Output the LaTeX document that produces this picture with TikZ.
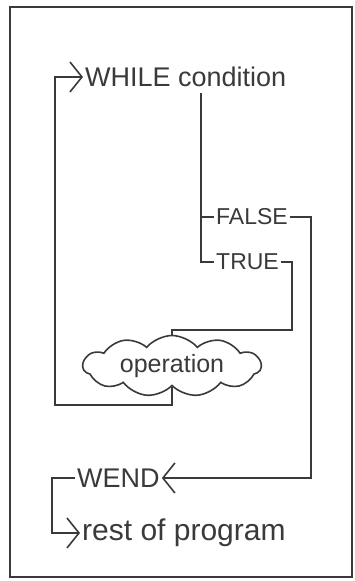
\documentclass[tikz,border=0pt]{standalone}
\usepackage{fontspec}
\setmainfont{Liberation Sans}
\usetikzlibrary{arrows.meta, positioning, shapes.symbols, calc}
\definecolor{ink}{HTML}{3A3A3A}
\tikzset{
  line/.style={draw=ink, line width=1.6pt},
  arrow/.style={line, -{Straight Barb[length=12pt, width=30pt, line width=1.6pt]}},
  word/.style={text=ink, font=\fontsize{27}{30}\selectfont, inner sep=2pt, anchor=west},
  wordsm/.style={word, font=\fontsize{23}{26}\selectfont},
  wordlg/.style={word, font=\fontsize{30}{33}\selectfont},
  blob/.style={cloud, cloud puffs=11, cloud puff arc=100, aspect=3.4, draw=ink, line width=1.6pt,
    inner sep=0pt, minimum width=178pt, minimum height=48pt, text=ink,
    font=\fontsize{25}{28}\selectfont},
}
\begin{document}
\begin{tikzpicture}[x=1pt, y=1pt]
\useasboundingbox (0,0) rectangle (354,581);
\draw[line] (10,4) rectangle (352,574);

\node[word] (while) at (83,504) {WHILE condition};
\node[wordsm] (false) at (214,364) {FALSE};
\node[wordsm, below=45pt of false.west, anchor=west] (true) {TRUE};
\node[blob] (op) at (172,215) {operation};
\node[word] (wend) at (75,103) {WEND};
\node[wordlg, below=55pt of wend.west, anchor=west, xshift=5pt] (rest) {rest of program};

\coordinate (cond) at ([xshift=15pt, yshift=-4pt]while.south);
\coordinate (back) at (55,176);

\draw[line] (cond) |- (true.west);
\draw[line] (cond |- false.west) -- (false.west);
\draw[line] (true.east) -- ++(11,0) |- ([yshift=5pt]op.north) -- (op.north);
\draw[arrow] (op.south) |- (back) |- (while.west);
\draw[arrow] (false.east) -- ++(21,0) |- (wend.east);
\draw[arrow] (wend.west) -- ++(-23,0) |- (rest.west);
\end{tikzpicture}
\end{document}
